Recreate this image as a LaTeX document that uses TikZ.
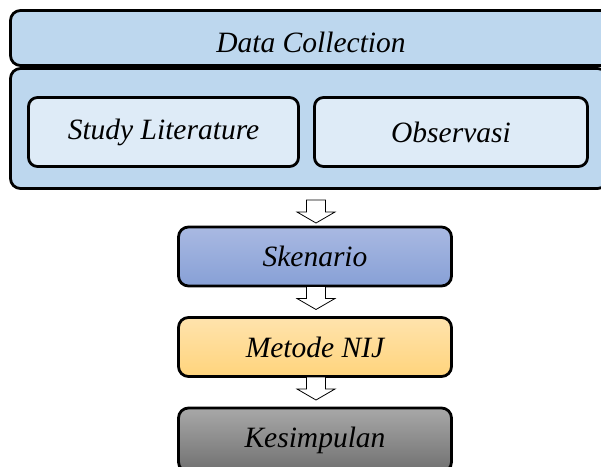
\documentclass[tikz,border=0pt]{standalone}
\usepackage{fontspec}
\setmainfont{Liberation Serif}
\definecolor{dcblue}{HTML}{BDD7EE}
\definecolor{dclight}{HTML}{DEEBF7}
\definecolor{skentop}{HTML}{A9B9E2}
\definecolor{skenbot}{HTML}{87A0D6}
\definecolor{nijtop}{HTML}{FFE3AD}
\definecolor{nijbot}{HTML}{FFD47C}
\definecolor{kestop}{HTML}{A8A8A8}
\definecolor{kesbot}{HTML}{707070}
\tikzset{
  stage/.style={draw=black, line width=2.8pt, rounded corners=10pt,
    inner sep=0pt, font=\fontsize{29.5}{34}\selectfont\itshape},
  sub/.style={stage, rounded corners=9pt, fill=dclight,
    minimum height=69pt},
  flowbox/.style={stage, minimum width=273pt, minimum height=59pt,
    shading=axis, shading angle=0},
  hollowarrow/.pic={
    \draw[fill=white, line width=0.8pt, line join=miter]
      (-9.5,0) -- (9.5,0) -- (9.5,12) -- (19,12) -- (0,23)
      -- (-19,12) -- (-9.5,12) -- cycle;
  }
}
\begin{document}
\begin{tikzpicture}[x=1pt, y=-1pt]
  \useasboundingbox (0,0) rectangle (601,466);
  \clip (0,0) rectangle (601,466);
  \fill[white] (0,0) rectangle (601,466);

  % data collection block
  \node[stage, fill=dcblue, minimum width=601pt, minimum height=55pt]
    (dc) at (311,38) {\raisebox{-4pt}[\height][\depth]{Data Collection}};
  \node[stage, fill=dcblue, minimum width=597pt, minimum height=120pt]
    (dcbody) at (309,128.5) {};
  \node[sub, minimum width=270pt] (lit) at (163.5,132) {Study Literature};
  \node[sub, minimum width=273pt] (obs) at (451,132) {Observasi};

  % process steps
  \node[flowbox, top color=skentop, bottom color=skenbot]
    (sken) at (315,256.5) {Skenario};
  \node[flowbox, top color=nijtop, bottom color=nijbot]
    (nij) at (315,347) {Metode NIJ};
  \node[flowbox, top color=kestop, bottom color=kesbot, minimum height=64pt]
    (kes) at (315,440) {Kesimpulan};

  % hollow arrows between the steps
  \pic at (316,200) {hollowarrow};
  \pic at (316,286.5) {hollowarrow};
  \pic at (316,377) {hollowarrow};
\end{tikzpicture}
\end{document}
